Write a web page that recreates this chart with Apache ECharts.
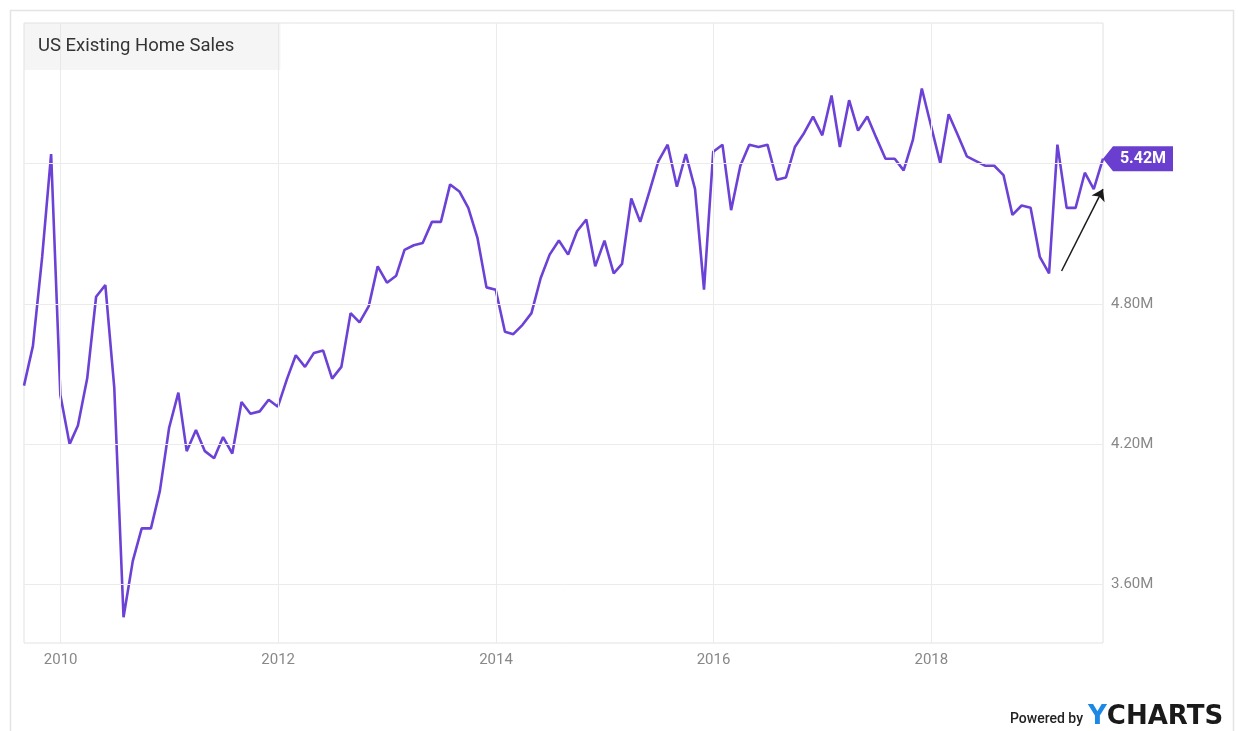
<!DOCTYPE html>
<html><head><meta charset="utf-8">
<script src="https://cdn.jsdelivr.net/npm/echarts@6/dist/echarts.min.js"></script>
<style>html,body{margin:0;padding:0;background:#fff}#c{width:1238px;height:731px}</style>
</head><body><div id="c"></div>
<script>
// First observation: Aug 2009, monthly, plotted at month end
const startYear = 2009, startMonth = 8;
const salesMillions = [
  4.45, 4.62, 5.00, 5.44, 4.41,
  4.20, 4.28, 4.48, 4.83, 4.88, 4.44, 3.46, 3.70, 3.84, 3.84, 4.00, 4.27,
  4.42, 4.17, 4.26, 4.17, 4.14, 4.23, 4.16, 4.38, 4.33, 4.34, 4.39, 4.36,
  4.48, 4.58, 4.53, 4.59, 4.60, 4.48, 4.53, 4.76, 4.72, 4.79, 4.96, 4.89,
  4.92, 5.03, 5.05, 5.06, 5.15, 5.15, 5.31, 5.28, 5.21, 5.08, 4.87, 4.86,
  4.68, 4.67, 4.71, 4.76, 4.91, 5.01, 5.07, 5.01, 5.11, 5.16, 4.96, 5.07,
  4.93, 4.97, 5.25, 5.15, 5.28, 5.41, 5.48, 5.30, 5.44, 5.29, 4.86, 5.45,
  5.48, 5.20, 5.39, 5.48, 5.47, 5.48, 5.33, 5.34, 5.47, 5.53, 5.60, 5.52,
  5.69, 5.47, 5.67, 5.54, 5.60, 5.51, 5.42, 5.42, 5.37, 5.50, 5.72, 5.56,
  5.40, 5.61, 5.52, 5.43, 5.41, 5.39, 5.39, 5.35, 5.18, 5.22, 5.21, 5.00,
  4.93, 5.48, 5.21, 5.21, 5.36, 5.29, 5.42
];
const yearTicks = ['2010', '2012', '2014', '2016', '2018'];
const valueTicks = [3.6, 4.2, 4.8, 5.4];
const arrowFrom = ['2019-03-14', 4.94];
const arrowTo = ['2019-07-31', 5.29];

const lineColor = '#6c41d6';
const labelFont = 'Roboto, "Noto Sans", sans-serif';

function monthEnd(i) {
  const m = startMonth - 1 + i;
  return new Date(startYear, m + 1, 0).getTime();
}
function parseDay(s) {
  const p = s.split('-').map(Number);
  return new Date(p[0], p[1] - 1, p[2]).getTime();
}
const seriesData = salesMillions.map((v, i) => [monthEnd(i), v]);
const last = seriesData[seriesData.length - 1];

const chart = echarts.init(document.getElementById('c'), null, { renderer: 'canvas' });
chart.setOption({
  animation: false,
  backgroundColor: '#fff',
  title: {
    text: 'US Existing Home Sales',
    left: 24, top: 23,
    padding: [14, 46, 14, 14],
    backgroundColor: 'rgba(225,225,225,0.35)',
    textStyle: { fontFamily: labelFont, fontSize: 18.5, fontWeight: 'normal', color: '#333' }
  },
  grid: {
    left: 24, right: 135, top: 23, bottom: 88,
    show: true, borderColor: '#e2e2e2', borderWidth: 1, backgroundColor: 'transparent'
  },
  xAxis: {
    type: 'time',
    min: seriesData[0][0], max: last[0],
    axisLine: { show: false }, axisTick: { show: false },
    axisLabel: { show: false }, splitLine: { show: false }
  },
  yAxis: {
    type: 'value', position: 'right',
    min: 3.35, max: 6.0,
    axisLine: { show: false }, axisTick: { show: false },
    axisLabel: { show: false }, splitLine: { show: false }
  },
  graphic: [
    { type: 'rect', silent: true, z: -1,
      shape: { x: 10.5, y: 10.5, width: 1223, height: 800 },
      style: { fill: 'none', stroke: '#e4e4e4', lineWidth: 1.5 } },
    { type: 'text', silent: true, x: 1083, y: 719,
      style: { text: 'Powered by', fill: '#222', font: '500 14px Roboto, sans-serif',
               textAlign: 'right', textVerticalAlign: 'middle' } },
    { type: 'text', silent: true, x: 1088, y: 717,
      style: { text: '{y|Y}{c|CHARTS}', textAlign: 'left', textVerticalAlign: 'middle',
               rich: {
                 y: { fill: '#1e88e5', font: 'bold 26px "DejaVu Sans", sans-serif' },
                 c: { fill: '#1a1a1a', font: 'bold 26px "DejaVu Sans", sans-serif' }
               } } }
  ],
  series: [
    {
      name: 'grid', type: 'line', data: [], silent: true, z: 1,
      markLine: {
        silent: true, symbol: 'none', animation: false,
        lineStyle: { color: '#ebebeb', width: 1, type: 'solid' },
        data: [
          ...yearTicks.map(y => ({
            xAxis: new Date(+y, 0, 1).getTime(),
            label: { show: true, position: 'start', formatter: y, distance: 10,
                     color: '#888', fontSize: 15, fontFamily: labelFont }
          })),
          ...valueTicks.map(v => ({
            yAxis: v,
            label: { show: Math.abs(v - last[1]) > 0.1, position: 'end',
                     formatter: v.toFixed(2) + 'M', distance: 8, padding: [0, 0, 20, 0],
                     color: '#888', fontSize: 15, fontFamily: labelFont }
          }))
        ]
      }
    },
    {
      name: 'US Existing Home Sales', type: 'line', data: seriesData, z: 3,
      showSymbol: false, smooth: false,
      lineStyle: { color: lineColor, width: 2.6 },
      itemStyle: { color: lineColor },
      markPoint: {
        silent: true, animation: false,
        symbol: 'path://M0,13 L10,0 L70,0 L70,26 L10,26 Z',
        symbolSize: [70, 25], symbolOffset: [35, 0],
        itemStyle: { color: '#6a3fcf' },
        label: { show: true, position: 'inside', offset: [5, 0],
                 formatter: p => p.value.toFixed(2) + 'M',
                 color: '#fff', fontWeight: 'bold', fontSize: 16, fontFamily: labelFont },
        data: [{ coord: last, value: last[1] }]
      }
    },
    {
      name: 'arrow', type: 'line', data: [], silent: true, z: 4,
      markLine: {
        silent: true, animation: false,
        symbol: ['none', 'arrow'], symbolSize: 11,
        lineStyle: { color: '#1a1a1a', width: 1.5, type: 'solid' },
        label: { show: false },
        data: [[
          { coord: [parseDay(arrowFrom[0]), arrowFrom[1]] },
          { coord: [parseDay(arrowTo[0]), arrowTo[1]] }
        ]]
      }
    }
  ]
});
</script></body></html>
